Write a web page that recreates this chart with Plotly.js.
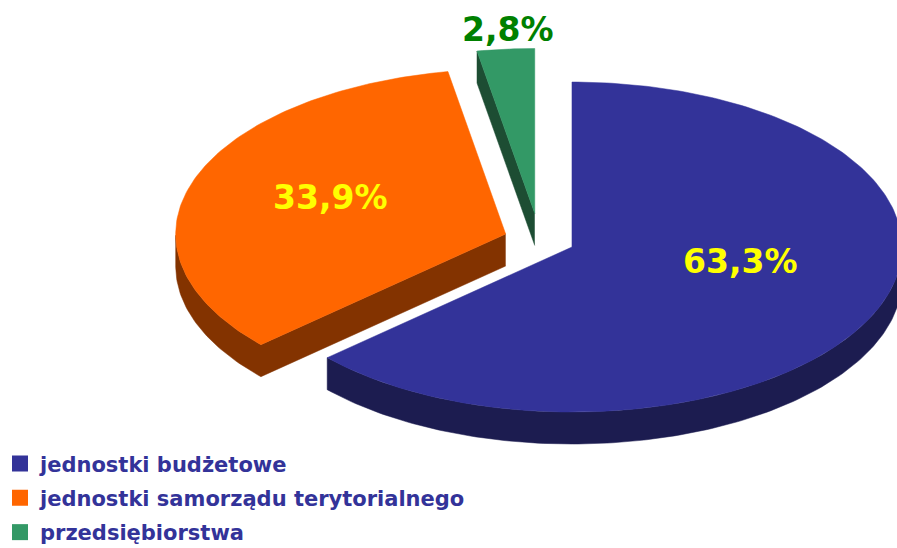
<!DOCTYPE html>
<html>
<head>
<meta charset="utf-8">
<script src="https://cdn.plot.ly/plotly-3.0.1.min.js"></script>
<style>html,body{margin:0;padding:0;background:#fff;}#chart{width:897px;height:548px;}</style>
</head>
<body>
<div id="chart"></div>
<script>
// ---- data ----
const categories = ['jednostki budżetowe', 'jednostki samorządu terytorialnego', 'przedsiębiorstwa'];
const shares = [63.3, 33.9, 2.8];
const shareLabels = ['63,3%', '33,9%', '2,8%'];

// ---- style ----
const topColors = ['#333399', '#ff6600', '#339966'];
const sideColors = ['#1c1c50', '#833300', '#1d4d33'];
const labelColors = ['#ffff00', '#ffff00', '#008000'];
const explode = [0.108, 0.108, 0.16];

// ---- geometry of the tilted pie (pixel space) ----
const CX = 539.4, CY = 239.8, RA = 330, RB = 165, DEPTH = 32;
const total = shares.reduce((s, v) => s + v, 0);

function pt(vx, vy, th, r) { return [vx + r * RA * Math.sin(th), vy - r * RB * Math.cos(th)]; }

const slices = [];
let acc = 0;
shares.forEach((v, i) => {
  const t1 = acc / total * 2 * Math.PI;
  acc += v;
  const t2 = acc / total * 2 * Math.PI;
  const mid = (t1 + t2) / 2;
  const off = pt(0, 0, mid, explode[i]);
  const vx = CX + off[0], vy = CY + off[1];
  const poly = [[vx, vy]];
  const n = Math.max(8, Math.ceil((t2 - t1) / (Math.PI / 180)));
  for (let k = 0; k <= n; k++) poly.push(pt(vx, vy, t1 + (t2 - t1) * k / n, 1));
  slices.push({i, t1, t2, mid, vx, vy, poly});
});

function wallChains(poly) {
  const n = poly.length;
  const front = [];
  for (let k = 0; k < n; k++) {
    const a = poly[k], b = poly[(k + 1) % n];
    front.push(b[0] - a[0] < -1e-9);
  }
  let s = front.indexOf(false);
  if (s < 0) s = 0;
  const chains = [];
  let cur = null;
  for (let j = 1; j <= n; j++) {
    const k = (s + j) % n;
    if (front[k]) {
      if (!cur) cur = [poly[k]];
      cur.push(poly[(k + 1) % n]);
    } else if (cur) { chains.push(cur); cur = null; }
  }
  if (cur) chains.push(cur);
  return chains;
}

const traces = [];
const order = [2, 1, 0];
order.forEach(i => {
  const sl = slices[i];
  wallChains(sl.poly).forEach(ch => {
    const pts = ch.concat(ch.slice().reverse().map(p => [p[0], p[1] + DEPTH]));
    traces.push({
      type: 'scatter', mode: 'lines', fill: 'toself',
      x: pts.map(p => p[0]), y: pts.map(p => p[1]),
      fillcolor: sideColors[i], line: {color: sideColors[i], width: 0.5},
      hoverinfo: 'skip', showlegend: false
    });
  });
  const tp = sl.poly.concat([sl.poly[0]]);
  traces.push({
    type: 'scatter', mode: 'lines', fill: 'toself',
    x: tp.map(p => p[0]), y: tp.map(p => p[1]),
    fillcolor: topColors[i], line: {color: topColors[i], width: 0.5},
    name: categories[i], text: shareLabels[i], hoverinfo: 'name+text', showlegend: false
  });
});

// legend entries
categories.forEach((c, i) => {
  traces.push({
    type: 'scatter', mode: 'markers', x: [null], y: [null], name: c,
    legendgroup: 'g' + i,
    marker: {symbol: 'square', size: 16, color: topColors[i]}
  });
});

// labels
const labelR = [0.56, 0.56, 1.12];
const labelDy = [-23, -7, 0];
const labelDx = [0, 0, 6];
const annotations = slices.map((sl, i) => {
  const p = pt(sl.vx, sl.vy, sl.mid, labelR[i]);
  return {
    x: p[0] + labelDx[i], y: p[1] + labelDy[i], xref: 'x', yref: 'y',
    text: '<b>' + shareLabels[i] + '</b>', showarrow: false,
    font: {family: 'DejaVu Sans', size: 33, color: labelColors[i]}
  };
});

const layout = {
  width: 897, height: 548,
  margin: {l: 0, r: 0, t: 0, b: 0, autoexpand: false},
  paper_bgcolor: '#ffffff', plot_bgcolor: '#ffffff',
  xaxis: {range: [0, 897], visible: false, fixedrange: true},
  yaxis: {range: [548, 0], visible: false, fixedrange: true},
  showlegend: true,
  legend: {
    x: 0, y: -0.008, xanchor: 'left', yanchor: 'bottom',
    bgcolor: 'rgba(0,0,0,0)', tracegroupgap: 4,
    font: {family: 'DejaVu Sans', size: 21, color: '#333399', weight: 'bold'}
  },
  annotations: annotations
};

Plotly.newPlot('chart', traces, layout, {displayModeBar: false, staticPlot: true});
</script>
</body>
</html>
